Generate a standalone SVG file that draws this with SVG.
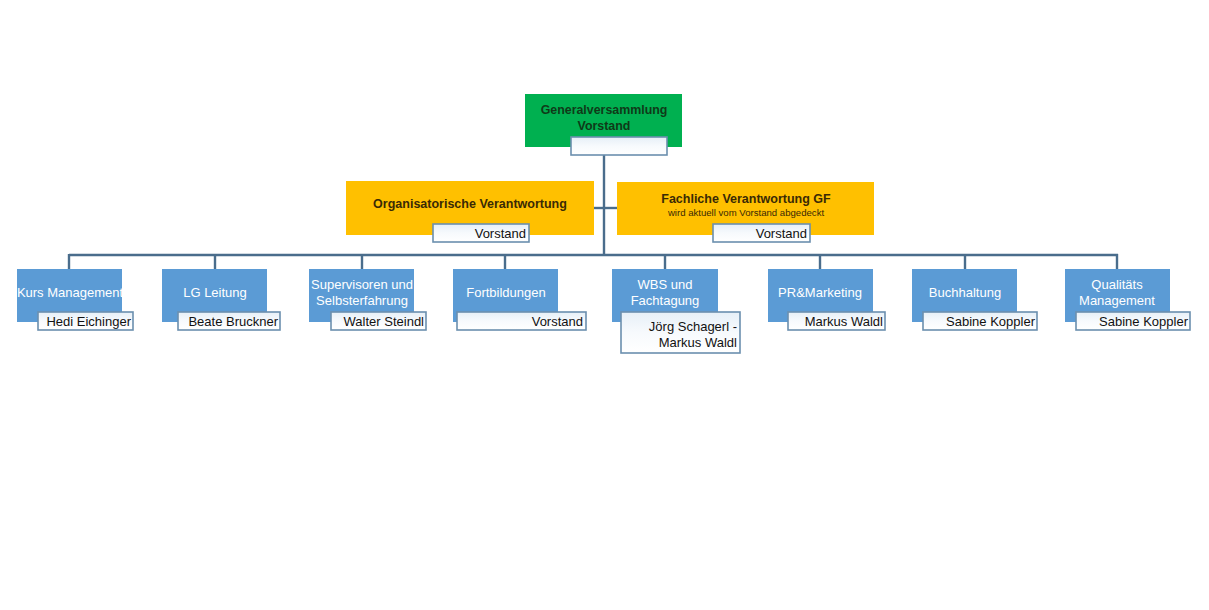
<svg xmlns="http://www.w3.org/2000/svg" width="1209" height="610" viewBox="0 0 1209 610">
<defs>
<linearGradient id="subg" x1="0" y1="0" x2="0" y2="1">
<stop offset="0" stop-color="#e6eff7"/>
<stop offset="0.5" stop-color="#f7fafd"/>
<stop offset="1" stop-color="#ffffff"/>
</linearGradient>
<style>
.bg{fill:#ffffff}
.blue{fill:#5b9bd5}
.orange{fill:#ffc000}
.green{fill:#00b050}
.sub{fill:url(#subg);stroke:#6b8fae;stroke-width:1.6}
.conn{stroke:#4a6d8c;stroke-width:2.4;fill:none}
.bt{font-family:"Liberation Sans",Arial,sans-serif;font-size:13px;fill:#ffffff;text-anchor:middle}
.st{font-family:"Liberation Sans",Arial,sans-serif;font-size:13px;fill:#111111;text-anchor:end}
.ot{font-family:"Liberation Sans",Arial,sans-serif;font-size:12.5px;font-weight:bold;fill:#3a2a05;text-anchor:middle}
.os{font-family:"Liberation Sans",Arial,sans-serif;font-size:9.6px;fill:#3a2a05;text-anchor:middle}
.gt{font-family:"Liberation Sans",Arial,sans-serif;font-size:12.4px;font-weight:bold;fill:#0f3a18;text-anchor:middle}
</style>
</defs>
<rect class="bg" x="0" y="0" width="1209" height="610"/>

<g id="connectors">
<line class="conn" x1="604" y1="150" x2="604" y2="255"/>
<line class="conn" x1="594" y1="208" x2="617" y2="208"/>
<line class="conn" x1="69" y1="255" x2="1118" y2="255"/>
<line class="conn" x1="69" y1="254" x2="69" y2="269"/>
<line class="conn" x1="215" y1="254" x2="215" y2="269"/>
<line class="conn" x1="362" y1="254" x2="362" y2="269"/>
<line class="conn" x1="505" y1="254" x2="505" y2="269"/>
<line class="conn" x1="665" y1="254" x2="665" y2="269"/>
<line class="conn" x1="820" y1="254" x2="820" y2="269"/>
<line class="conn" x1="965" y1="254" x2="965" y2="269"/>
<line class="conn" x1="1117" y1="254" x2="1117" y2="269"/>
</g>

<g id="generalversammlung">
<rect class="green" x="525" y="94" width="157" height="53"/>
<text class="gt" x="604" y="114">Generalversammlung</text>
<text class="gt" x="604" y="130">Vorstand</text>
<rect class="sub" x="571" y="137" width="96" height="18"/>
</g>

<g id="organisatorische">
<rect class="orange" x="346" y="181" width="248" height="54"/>
<text class="ot" x="470" y="208">Organisatorische Verantwortung</text>
<rect class="sub" x="433" y="224" width="96" height="18"/>
<text class="st" x="526" y="238">Vorstand</text>
</g>

<g id="fachliche">
<rect class="orange" x="617" y="182" width="257" height="53"/>
<text class="ot" x="746" y="203">Fachliche Verantwortung GF</text>
<text class="os" x="746" y="216">wird aktuell vom Vorstand abgedeckt</text>
<rect class="sub" x="713" y="224" width="97" height="18"/>
<text class="st" x="807" y="238">Vorstand</text>
</g>

<g id="kurs">
<rect class="blue" x="17" y="269" width="105" height="53"/>
<text class="bt" x="70" y="297">Kurs Management</text>
<rect class="sub" x="38" y="312" width="95" height="18"/>
<text class="st" x="131" y="326">Hedi Eichinger</text>
</g>

<g id="lg">
<rect class="blue" x="162" y="269" width="105" height="53"/>
<text class="bt" x="215" y="297">LG Leitung</text>
<rect class="sub" x="178" y="312" width="102" height="18"/>
<text class="st" x="278" y="326">Beate Bruckner</text>
</g>

<g id="supervisoren">
<rect class="blue" x="309" y="269" width="105" height="53"/>
<text class="bt" x="362" y="289">Supervisoren und</text>
<text class="bt" x="362" y="305">Selbsterfahrung</text>
<rect class="sub" x="331" y="312" width="95" height="18"/>
<text class="st" x="424" y="326">Walter Steindl</text>
</g>

<g id="fortbildungen">
<rect class="blue" x="453" y="269" width="105" height="53"/>
<text class="bt" x="506" y="297">Fortbildungen</text>
<rect class="sub" x="457" y="312" width="129" height="18"/>
<text class="st" x="583" y="326">Vorstand</text>
</g>

<g id="wbs">
<rect class="blue" x="612" y="269" width="106" height="53"/>
<text class="bt" x="665" y="289">WBS und</text>
<text class="bt" x="665" y="305">Fachtagung</text>
<rect class="sub" x="621" y="312" width="119" height="41"/>
<text class="st" x="737" y="331">Jörg Schagerl -</text>
<text class="st" x="737" y="347">Markus Waldl</text>
</g>

<g id="pr">
<rect class="blue" x="768" y="269" width="105" height="53"/>
<text class="bt" x="820" y="297">PR&amp;Marketing</text>
<rect class="sub" x="788" y="312" width="97" height="18"/>
<text class="st" x="883" y="326">Markus Waldl</text>
</g>

<g id="buchhaltung">
<rect class="blue" x="912" y="269" width="105" height="53"/>
<text class="bt" x="965" y="297">Buchhaltung</text>
<rect class="sub" x="923" y="312" width="114" height="18"/>
<text class="st" x="1035" y="326">Sabine Koppler</text>
</g>

<g id="qualitaet">
<rect class="blue" x="1065" y="269" width="105" height="53"/>
<text class="bt" x="1117" y="289">Qualitäts</text>
<text class="bt" x="1117" y="305">Management</text>
<rect class="sub" x="1076" y="312" width="114" height="18"/>
<text class="st" x="1188" y="326">Sabine Koppler</text>
</g>
</svg>
